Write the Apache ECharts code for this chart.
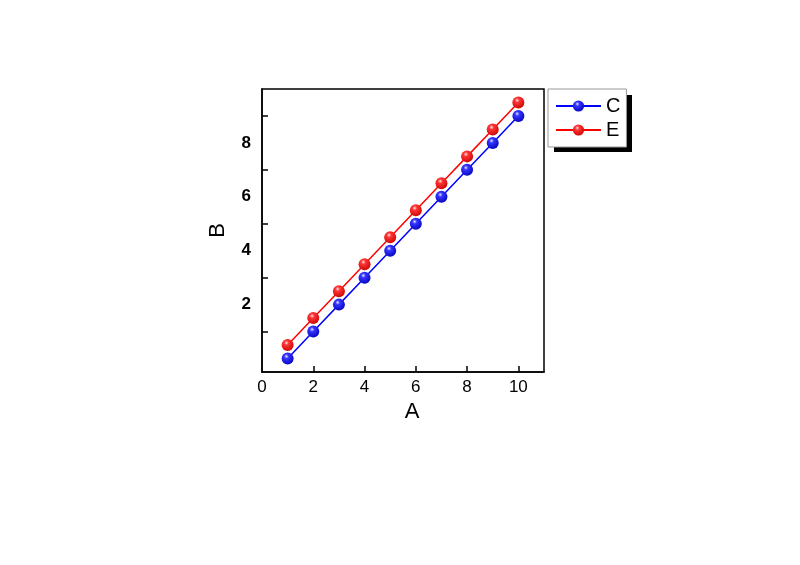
<!DOCTYPE html>
<html>
<head>
<meta charset="utf-8">
<script src="https://cdn.jsdelivr.net/npm/echarts@6/dist/echarts.min.js"></script>
<style>
  html, body { margin: 0; padding: 0; background: #fff; }
  #chart { width: 800px; height: 565px; }
</style>
</head>
<body>
<div id="chart"></div>
<script>
// data
var xValues = [1, 2, 3, 4, 5, 6, 7, 8, 9, 10];
var cValues = [0, 1, 2, 3, 4, 5, 6, 7, 8, 9];
var eValues = [0.5, 1.5, 2.5, 3.5, 4.5, 5.5, 6.5, 7.5, 8.5, 9.5];
var xTicks = [2, 4, 6, 8, 10];
var xLabels = [0, 2, 4, 6, 8, 10];
var yTicks = [1, 3, 5, 7, 9];
var yLabels = [2, 4, 6, 8];

function pairs(xs, ys) {
  return xs.map(function (x, i) { return [x, ys[i]]; });
}

// shaded ball look for the markers
function ball(light, mid, dark) {
  return new echarts.graphic.RadialGradient(0.4, 0.32, 0.75, [
    { offset: 0, color: light },
    { offset: 0.25, color: mid },
    { offset: 1, color: dark }
  ]);
}

var chart = echarts.init(document.getElementById('chart'));
var option = {
  animation: false,
  grid: {
    left: 262, right: 256, top: 89, bottom: 193,
    show: true, borderColor: '#000', borderWidth: 1.5
  },
  // black drop shadow behind the legend box
  graphic: [{
    type: 'rect', z: 1,
    shape: { x: 554, y: 95, width: 78, height: 57 },
    style: { fill: '#000' }
  }],
  legend: {
    left: 548, top: 89, z: 10,
    orient: 'vertical',
    itemWidth: 45, itemHeight: 14, itemGap: 4,
    padding: [7, 6, 7, 7],
    backgroundColor: '#fff',
    borderColor: '#999', borderWidth: 1,
    textStyle: { fontFamily: 'Liberation Sans', fontSize: 20, color: '#000' },
    data: ['C', 'E']
  },
  xAxis: {
    type: 'value', min: 0, max: 11,
    name: 'A', nameLocation: 'middle', nameGap: 29,
    nameTextStyle: { fontFamily: 'Liberation Sans', fontSize: 22, color: '#000', padding: [0, 0, 0, 18] },
    splitLine: { show: false },
    axisLine: { onZero: false, lineStyle: { color: '#000', width: 1.5 } },
    axisTick: { inside: true, length: 6, lineStyle: { color: '#000', width: 1.5 }, customValues: xTicks },
    axisLabel: { fontFamily: 'Liberation Sans', fontSize: 17, color: '#000', margin: 7, customValues: xLabels }
  },
  yAxis: {
    type: 'value', min: -0.5, max: 10,
    name: 'B', nameLocation: 'middle', nameGap: 33,
    nameTextStyle: { fontFamily: 'Liberation Sans', fontSize: 22, color: '#000' },
    splitLine: { show: false },
    axisLine: { onZero: false, lineStyle: { color: '#000', width: 1.5 } },
    axisTick: { inside: true, length: 6, lineStyle: { color: '#000', width: 1.5 }, customValues: yTicks },
    axisLabel: { fontFamily: 'Liberation Sans', fontSize: 17, fontWeight: 'bold', color: '#000', margin: 11, customValues: yLabels }
  },
  series: [
    {
      name: 'C', type: 'line',
      data: pairs(xValues, cValues),
      symbol: 'circle', symbolSize: 12,
      lineStyle: { color: '#0000ff', width: 1.5 },
      itemStyle: { color: ball('#e6e6ff', '#3535ff', '#0000b8'), borderWidth: 0 }
    },
    {
      name: 'E', type: 'line',
      data: pairs(xValues, eValues),
      symbol: 'circle', symbolSize: 12,
      lineStyle: { color: '#ff0000', width: 1.5 },
      itemStyle: { color: ball('#ffe6e6', '#ff3535', '#c80000'), borderWidth: 0 }
    }
  ]
};
chart.setOption(option);
</script>
</body>
</html>
